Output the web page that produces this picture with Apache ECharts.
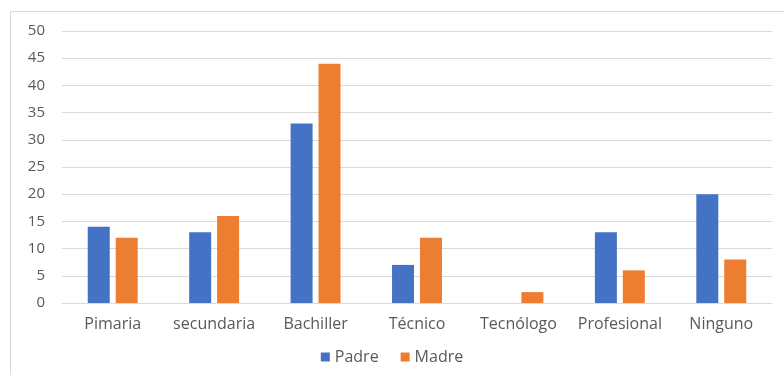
<!DOCTYPE html>
<html>
<head>
<meta charset="utf-8">
<script src="https://cdn.jsdelivr.net/npm/echarts@6/dist/echarts.min.js"></script>
<style>
  html, body { margin: 0; padding: 0; background: #fff; }
  #chart { width: 784px; height: 375px; }
</style>
</head>
<body>
<div id="chart"></div>
<script>
// Education level of parents
const categories = ['Pimaria', 'secundaria', 'Bachiller', 'Técnico', 'Tecnólogo', 'Profesional', 'Ninguno'];
const padre = [14, 13, 33, 7, 0, 13, 20];
const madre = [12, 16, 44, 12, 2, 6, 8];
const seriesNames = ['Padre', 'Madre'];

const textColor = '#595959';
const fontFamily = '"Open Sans", sans-serif';

const chart = echarts.init(document.getElementById('chart'));
chart.setOption({
  animation: false,
  textStyle: { fontFamily: fontFamily },
  graphic: [{
    type: 'rect',
    shape: { x: 10.5, y: 11.5, width: 800, height: 400 },
    style: { fill: 'none', stroke: '#d9d9d9', lineWidth: 1 },
    silent: true,
    z: -1
  }],
  grid: { left: 62, right: 12, top: 31, bottom: 72, containLabel: false },
  legend: {
    data: seriesNames,
    bottom: 5,
    left: 'center',
    itemWidth: 9,
    itemHeight: 9,
    itemGap: 22,
    icon: 'rect',
    textStyle: { color: textColor, fontSize: 16, fontFamily: fontFamily }
  },
  xAxis: {
    type: 'category',
    data: categories,
    axisLine: { show: true, lineStyle: { color: '#d9d9d9', width: 1 } },
    axisTick: { show: false },
    axisLabel: { color: textColor, fontSize: 16, margin: 13, fontFamily: fontFamily, interval: 0 }
  },
  yAxis: {
    type: 'value',
    min: 0,
    max: 50,
    interval: 5,
    axisLine: { show: false },
    axisTick: { show: false },
    axisLabel: { color: textColor, fontSize: 15, margin: 17, fontFamily: fontFamily },
    splitLine: { lineStyle: { color: '#d9d9d9', width: 1 } }
  },
  series: [
    {
      name: seriesNames[0],
      type: 'bar',
      data: padre,
      barWidth: 22,
      barGap: '27%',
      itemStyle: { color: '#4472c4' }
    },
    {
      name: seriesNames[1],
      type: 'bar',
      data: madre,
      barWidth: 22,
      barGap: '27%',
      itemStyle: { color: '#ed7d31' }
    }
  ]
});
</script>
</body>
</html>
